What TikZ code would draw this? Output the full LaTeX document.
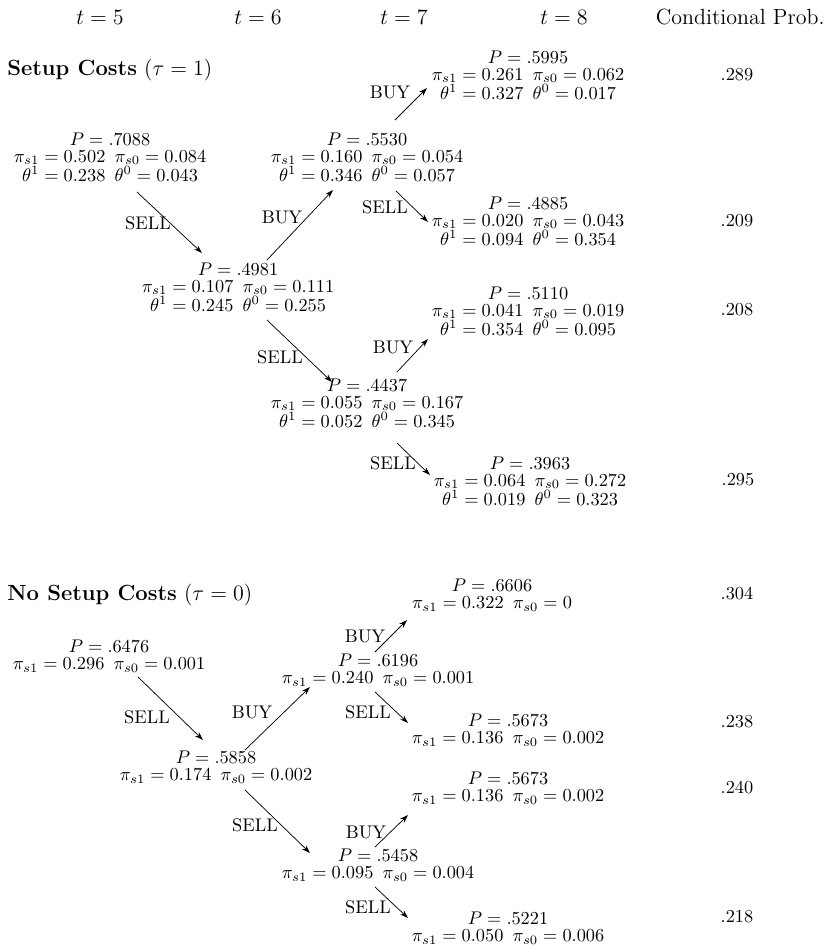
\documentclass[tikz,border=0pt]{standalone}
\usetikzlibrary{arrows.meta}
\begin{document}
\begin{tikzpicture}[x=0.5464pt,y=-0.5464pt,
  val/.style={inner sep=0pt, align=center, font=\fontsize{10}{9.3}\selectfont},
  lab/.style={inner sep=0pt, font=\normalsize},
  hdr/.style={inner sep=0pt, font=\large},
  cp/.style={inner sep=0pt, font=\normalsize},
  arr/.style={line width=0.4pt, -{Stealth[length=4.5pt,width=3pt]}}]
\useasboundingbox (0,0) rectangle (827,949);

% headers
\node[hdr] (h5) at (100,17) {$t=5$};
\node[hdr] (h6) at (258,17) {$t=6$};
\node[hdr] (h7) at (404,17) {$t=7$};
\node[hdr] (h8) at (564,17) {$t=8$};
\node[hdr,anchor=east] (hc) at (825,17) {Conditional Prob.};

% ---------- Setup costs ----------
\node[hdr,anchor=west] (t1) at (7,70) {\textbf{Setup Costs} $(\tau=1)$};

\node[val] (A) at (110,157) {$P=.7088$\\$\pi_{s1}=0.502\enspace\pi_{s0}=0.084$\\$\theta^1=0.238\enspace\theta^0=0.043$};
\node[val] (B) at (238,287) {$P=.4981$\\$\pi_{s1}=0.107\enspace\pi_{s0}=0.111$\\$\theta^1=0.245\enspace\theta^0=0.255$};
\node[val] (C) at (367,157) {$P=.5530$\\$\pi_{s1}=0.160\enspace\pi_{s0}=0.054$\\$\theta^1=0.346\enspace\theta^0=0.057$};
\node[val] (D) at (367,403) {$P=.4437$\\$\pi_{s1}=0.055\enspace\pi_{s0}=0.167$\\$\theta^1=0.052\enspace\theta^0=0.345$};
\node[val] (E) at (528,75) {$P=.5995$\\$\pi_{s1}=0.261\enspace\pi_{s0}=0.062$\\$\theta^1=0.327\enspace\theta^0=0.017$};
\node[val] (F) at (528,221) {$P=.4885$\\$\pi_{s1}=0.020\enspace\pi_{s0}=0.043$\\$\theta^1=0.094\enspace\theta^0=0.354$};
\node[val] (G) at (528,311) {$P=.5110$\\$\pi_{s1}=0.041\enspace\pi_{s0}=0.019$\\$\theta^1=0.354\enspace\theta^0=0.095$};
\node[val] (H) at (530,481) {$P=.3963$\\$\pi_{s1}=0.064\enspace\pi_{s0}=0.272$\\$\theta^1=0.019\enspace\theta^0=0.323$};

\node[cp] (cE) at (737,75) {.289};
\node[cp] (cF) at (737,221) {.209};
\node[cp] (cG) at (737,310) {.208};
\node[cp] (cH) at (738,480) {.295};

\coordinate (ab1) at (137,192); \coordinate (ab2) at (202,253);
\coordinate (bc1) at (267,260); \coordinate (bc2) at (333,190);
\coordinate (ce1) at (395,120); \coordinate (ce2) at (427,88);
\coordinate (cf1) at (396,191); \coordinate (cf2) at (428,222);
\coordinate (bd1) at (267,320); \coordinate (bd2) at (332,382);
\coordinate (dg1) at (397,372); \coordinate (dg2) at (428,339);
\coordinate (dh1) at (397,443); \coordinate (dh2) at (430,475);

\draw[arr] (ab1) -- (ab2);
\draw[arr] (bc1) -- (bc2);
\draw[arr] (ce1) -- (ce2);
\draw[arr] (cf1) -- (cf2);
\draw[arr] (bd1) -- (bd2);
\draw[arr] (dg1) -- (dg2);
\draw[arr] (dh1) -- (dh2);

\node[lab] (lab) at (148,223) {SELL};
\node[lab] (lbc) at (282,217) {BUY};
\node[lab] (lce) at (390,92) {BUY};
\node[lab] (lcf) at (385,207) {SELL};
\node[lab] (lbd) at (280,357) {SELL};
\node[lab] (ldg) at (393,347) {BUY};
\node[lab] (ldh) at (393,463) {SELL};

% ---------- No setup costs ----------
\node[hdr,anchor=west] (t0) at (7,595) {\textbf{No Setup Costs} $(\tau=0)$};

\node[val] (A2) at (109,656) {$P=.6476$\\$\pi_{s1}=0.296\enspace\pi_{s0}=0.001$};
\node[val] (B2) at (216,767) {$P=.5858$\\$\pi_{s1}=0.174\enspace\pi_{s0}=0.002$};
\node[val] (C2) at (378,670) {$P=.6196$\\$\pi_{s1}=0.240\enspace\pi_{s0}=0.001$};
\node[val] (D2) at (378,865) {$P=.5458$\\$\pi_{s1}=0.095\enspace\pi_{s0}=0.004$};
\node[val] (E2) at (492,595) {$P=.6606$\\$\pi_{s1}=0.322\enspace\pi_{s0}=0$};
\node[val] (F2) at (508,730) {$P=.5673$\\$\pi_{s1}=0.136\enspace\pi_{s0}=0.002$};
\node[val] (G2) at (508,788) {$P=.5673$\\$\pi_{s1}=0.136\enspace\pi_{s0}=0.002$};
\node[val] (H2) at (508,928) {$P=.5221$\\$\pi_{s1}=0.050\enspace\pi_{s0}=0.006$};

\node[cp] (cE2) at (737,593) {.304};
\node[cp] (cF2) at (737,722) {.238};
\node[cp] (cG2) at (737,787) {.240};
\node[cp] (cH2) at (737,917) {.218};

\coordinate (ab3) at (138,677); \coordinate (ab4) at (203,740);
\coordinate (bc3) at (245,750); \coordinate (bc4) at (310,687);
\coordinate (ce3) at (375,652); \coordinate (ce4) at (407,620);
\coordinate (cf3) at (375,692); \coordinate (cf4) at (408,723);
\coordinate (bd3) at (245,790); \coordinate (bd4) at (310,853);
\coordinate (dg3) at (375,847); \coordinate (dg4) at (408,815);
\coordinate (dh3) at (375,887); \coordinate (dh4) at (408,918);

\draw[arr] (ab3) -- (ab4);
\draw[arr] (bc3) -- (bc4);
\draw[arr] (ce3) -- (ce4);
\draw[arr] (cf3) -- (cf4);
\draw[arr] (bd3) -- (bd4);
\draw[arr] (dg3) -- (dg4);
\draw[arr] (dh3) -- (dh4);

\node[lab] (lab2) at (147,717) {SELL};
\node[lab] (lbc2) at (252,712) {BUY};
\node[lab] (lce2) at (365,636) {BUY};
\node[lab] (lcf2) at (368,712) {SELL};
\node[lab] (lbd2) at (255,825) {SELL};
\node[lab] (ldg2) at (366,832) {BUY};
\node[lab] (ldh2) at (368,907) {SELL};
\end{tikzpicture}
\end{document}
